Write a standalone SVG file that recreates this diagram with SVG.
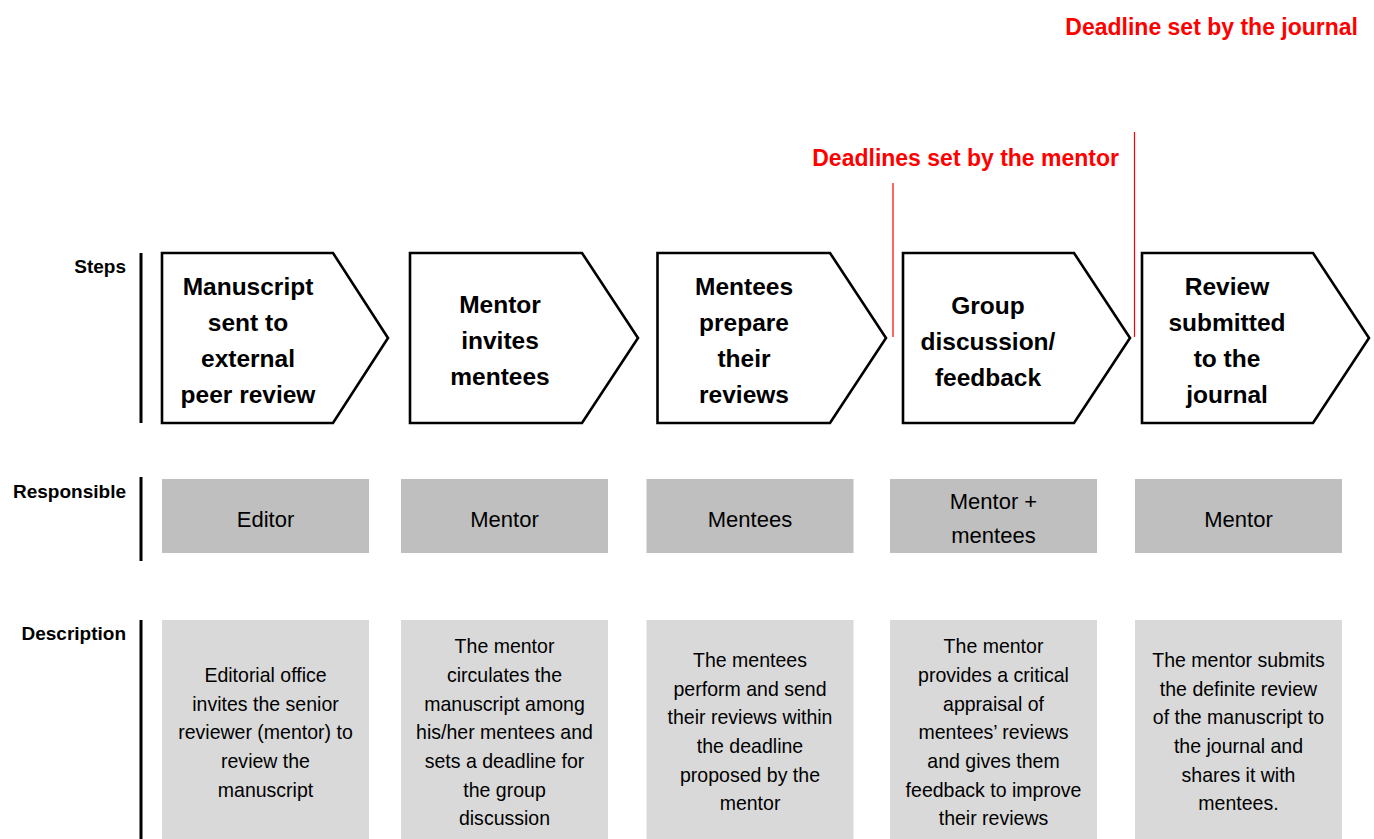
<svg xmlns="http://www.w3.org/2000/svg" width="1374" height="839" viewBox="0 0 1374 839">
<style>
  text { font-family: "Liberation Sans", Arial, sans-serif; fill: #000; }
  .lbl { font-size: 19px; font-weight: bold; text-anchor: end; }
  .step { font-size: 24.5px; font-weight: bold; text-anchor: middle; }
  .resp { font-size: 22px; text-anchor: middle; }
  .desc { font-size: 21px; text-anchor: middle; }
  .red { font-size: 23px; font-weight: bold; fill: #ff0000; text-anchor: end; }
  .arrow { fill: #fff; stroke: #000; stroke-width: 2.6; stroke-linejoin: miter; }
  .rbox { fill: #bfbfbf; }
  .dbox { fill: #d9d9d9; }
  .bar { stroke: #000; stroke-width: 3; }
  .redline { stroke: #ff0000; stroke-width: 1.2; }
</style>
<rect width="1374" height="839" fill="#fff"/>

<g id="row-labels">
  <text class="lbl" x="126" y="273">Steps</text>
  <text class="lbl" x="126" y="498">Responsible</text>
  <text class="lbl" x="126" y="640">Description</text>
  <line class="bar" x1="141" y1="253" x2="141" y2="423"/>
  <line class="bar" x1="141" y1="477" x2="141" y2="561"/>
  <line class="bar" x1="141" y1="620" x2="141" y2="839"/>
</g>

<g id="deadlines">
  <text class="red" x="1358" y="35">Deadline set by the journal</text>
  <text class="red" x="1119" y="166">Deadlines set by the mentor</text>
  <line class="redline" x1="893" y1="183" x2="893" y2="337"/>
  <line class="redline" x1="1134.5" y1="132" x2="1134.5" y2="337"/>
</g>

<g id="step1">
  <polygon class="arrow" points="162,253 333,253 388,338 333,423 162,423"/>
  <text class="step" x="248" y="295">Manuscript</text>
  <text class="step" x="248" y="331">sent to</text>
  <text class="step" x="248" y="367">external</text>
  <text class="step" x="248" y="403">peer review</text>
</g>
<g id="step2">
  <polygon class="arrow" points="410,253 582,253 638,338 582,423 410,423"/>
  <text class="step" x="500" y="313">Mentor</text>
  <text class="step" x="500" y="349">invites</text>
  <text class="step" x="500" y="385">mentees</text>
</g>
<g id="step3">
  <polygon class="arrow" points="657.5,253 830,253 886,338 830,423 657.5,423"/>
  <text class="step" x="744" y="295">Mentees</text>
  <text class="step" x="744" y="331">prepare</text>
  <text class="step" x="744" y="367">their</text>
  <text class="step" x="744" y="403">reviews</text>
</g>
<g id="step4">
  <polygon class="arrow" points="903,253 1074,253 1130,338 1074,423 903,423"/>
  <text class="step" x="988" y="314">Group</text>
  <text class="step" x="988" y="350">discussion/</text>
  <text class="step" x="988" y="386">feedback</text>
</g>
<g id="step5">
  <polygon class="arrow" points="1142,253 1313,253 1369,338 1313,423 1142,423"/>
  <text class="step" x="1227" y="295">Review</text>
  <text class="step" x="1227" y="331">submitted</text>
  <text class="step" x="1227" y="367">to the</text>
  <text class="step" x="1227" y="403">journal</text>
</g>

<g id="resp1">
  <rect class="rbox" x="162" y="479" width="207" height="74"/>
  <text class="resp" x="265.5" y="527">Editor</text>
</g>
<g id="resp2">
  <rect class="rbox" x="401" y="479" width="207" height="74"/>
  <text class="resp" x="504.5" y="527">Mentor</text>
</g>
<g id="resp3">
  <rect class="rbox" x="646.5" y="479" width="207" height="74"/>
  <text class="resp" x="750" y="527">Mentees</text>
</g>
<g id="resp4">
  <rect class="rbox" x="890" y="479" width="207" height="74"/>
  <text class="resp" x="993.5" y="509">Mentor +</text>
  <text class="resp" x="993.5" y="543">mentees</text>
</g>
<g id="resp5">
  <rect class="rbox" x="1135" y="479" width="207" height="74"/>
  <text class="resp" x="1238.5" y="527">Mentor</text>
</g>

<g id="desc1">
  <rect class="dbox" x="162" y="620" width="207" height="219"/>
  <g transform="translate(265.5 0) scale(0.93 1)">
    <text class="desc" x="0" y="682">Editorial office</text>
    <text class="desc" x="0" y="710.7">invites the senior</text>
    <text class="desc" x="0" y="739.4">reviewer (mentor) to</text>
    <text class="desc" x="0" y="768.1">review the</text>
    <text class="desc" x="0" y="796.8">manuscript</text>
  </g>
</g>
<g id="desc2">
  <rect class="dbox" x="401" y="620" width="207" height="219"/>
  <g transform="translate(504.5 0) scale(0.93 1)">
    <text class="desc" x="0" y="653.3">The mentor</text>
    <text class="desc" x="0" y="682">circulates the</text>
    <text class="desc" x="0" y="710.7">manuscript among</text>
    <text class="desc" x="0" y="739.4">his/her mentees and</text>
    <text class="desc" x="0" y="768.1">sets a deadline for</text>
    <text class="desc" x="0" y="796.8">the group</text>
    <text class="desc" x="0" y="825.5">discussion</text>
  </g>
</g>
<g id="desc3">
  <rect class="dbox" x="646.5" y="620" width="207" height="219"/>
  <g transform="translate(750 0) scale(0.93 1)">
    <text class="desc" x="0" y="667">The mentees</text>
    <text class="desc" x="0" y="695.7">perform and send</text>
    <text class="desc" x="0" y="724.4">their reviews within</text>
    <text class="desc" x="0" y="753.1">the deadline</text>
    <text class="desc" x="0" y="781.8">proposed by the</text>
    <text class="desc" x="0" y="810.5">mentor</text>
  </g>
</g>
<g id="desc4">
  <rect class="dbox" x="890" y="620" width="207" height="219"/>
  <g transform="translate(993.5 0) scale(0.93 1)">
    <text class="desc" x="0" y="653.3">The mentor</text>
    <text class="desc" x="0" y="682">provides a critical</text>
    <text class="desc" x="0" y="710.7">appraisal of</text>
    <text class="desc" x="0" y="739.4">mentees’ reviews</text>
    <text class="desc" x="0" y="768.1">and gives them</text>
    <text class="desc" x="0" y="796.8">feedback to improve</text>
    <text class="desc" x="0" y="825.5">their reviews</text>
  </g>
</g>
<g id="desc5">
  <rect class="dbox" x="1135" y="620" width="207" height="219"/>
  <g transform="translate(1238.5 0) scale(0.93 1)">
    <text class="desc" x="0" y="667">The mentor submits</text>
    <text class="desc" x="0" y="695.7">the definite review</text>
    <text class="desc" x="0" y="724.4">of the manuscript to</text>
    <text class="desc" x="0" y="753.1">the journal and</text>
    <text class="desc" x="0" y="781.8">shares it with</text>
    <text class="desc" x="0" y="810.5">mentees.</text>
  </g>
</g>

<g id="connectors"></g>
</svg>
